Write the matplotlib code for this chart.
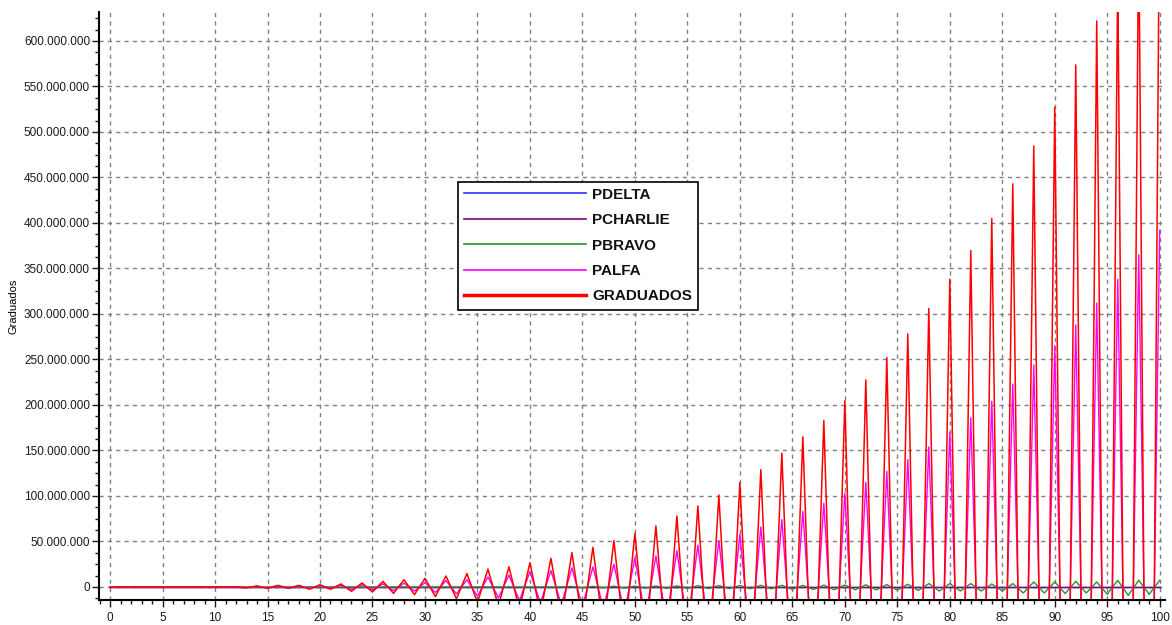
import numpy as np
import matplotlib
matplotlib.use('Agg')
import matplotlib.pyplot as plt
from matplotlib.ticker import MultipleLocator, FuncFormatter

plt.rcParams['font.family'] = ['Liberation Sans', 'DejaVu Sans']

# x steps 0..100
steps = list(range(0, 101))

# values in millions (odd steps below the axis are estimates)
graduados_m = [
    0, 0, 0, 0, 0, 0, 0, 0, 0, 0,
    0, 0, 0, -1.0, 1.2, -1.5, 1.8, -1.5, 1.8, -2.5,
    2.5, -2.5, 3.3, -4.8, 4.4, -5.5, 6.2, -7.0, 8.0, -8.4,
    9.5, -10.5, 12.0, -13.0, 14.8, -17.0, 19.7, -21.0, 22.3, -24.5,
    26.7, -29.0, 31.5, -34.5, 37.7, -40.5, 43.6, -47.0, 50.9, -55.5,
    59.0, -64.0, 67.0, -72.5, 78.0, -83.5, 89.0, -95.0, 101.0, -108.0,
    114.6, -122.0, 129.0, -138.0, 147.0, -156.0, 165.0, -174.0, 182.8, -194.0,
    204.7, -216.0, 227.5, -240.0, 252.0, -265.0, 278.0, -292.0, 306.0, -322.0,
    338.0, -354.0, 369.6, -387.0, 405.0, -424.0, 443.0, -464.0, 484.6, -506.0,
    527.0, -550.0, 573.6, -598.0, 622.0, -648.0, 675.0, -703.0, 731.0, -760.0,
    790.0,
]

palfa_m = [
    0, 0, 0, 0, 0, 0, 0, 0, 0, 0,
    0, 0, 0, -0.7, 0.8, -1.0, 1.2, -1.0, 1.2, -1.5,
    1.5, -1.6, 2.0, -2.8, 2.5, -3.2, 3.5, -4.0, 4.2, -4.5,
    4.7, -6.0, 7.0, -7.5, 8.0, -10.0, 11.0, -12.0, 13.0, -15.0,
    16.8, -17.5, 18.0, -19.5, 21.0, -21.5, 22.0, -23.5, 25.0, -28.5,
    32.0, -33.0, 34.0, -37.0, 40.0, -43.0, 46.0, -48.5, 51.0, -54.5,
    58.0, -62.0, 66.0, -70.0, 74.0, -78.5, 83.0, -87.5, 92.0, -97.5,
    103.0, -109.0, 115.0, -121.0, 127.0, -133.5, 140.0, -147.0, 154.0, -162.0,
    170.0, -178.0, 186.0, -195.0, 204.0, -213.5, 223.0, -233.5, 244.0, -254.5,
    265.0, -276.5, 288.0, -300.0, 312.0, -325.0, 338.0, -351.5, 365.0, -378.5,
    392.0,
]

pbravo_m = [
    0, 0, 0, 0, 0, 0, 0, 0, 0, 0,
    0, 0, 0, 0, 0, 0, 0, 0, 0, 0,
    0, 0, 0, 0, 0, 0, 0, 0, 0, 0,
    0, 0, 0, 0, 0, 0, 0, 0, 0, 0,
    0, 0, 0, 0, 0.6, -0.8, 0.7, -0.9, 0.9, -1.2,
    1.0, -1.3, 1.2, -1.5, 1.3, -1.6, 1.5, -1.7, 1.6, -1.8,
    1.7, -1.9, 1.8, -2.0, 1.8, -2.6, 1.8, -2.8, 2.0, -3.0,
    2.2, -3.0, 2.4, -3.2, 2.6, -3.4, 3.0, -3.8, 3.7, -4.4,
    3.7, -4.4, 3.7, -4.4, 3.3, -4.4, 3.7, -6.6, 5.5, -6.6,
    5.5, -7.3, 6.2, -6.6, 5.5, -8.0, 7.3, -9.2, 7.3, -8.0,
    7.3,
]

pcharlie_m = [0] * 101
pdelta_m = [0] * 101

series = [
    ('PDELTA', pdelta_m, '#3030ff', 1.0),
    ('PCHARLIE', pcharlie_m, '#800080', 1.0),
    ('PBRAVO', pbravo_m, '#22962a', 1.0),
    ('PALFA', palfa_m, '#ff00ff', 1.0),
    ('GRADUADOS', graduados_m, '#ff0000', 1.1),
]

fig = plt.figure(figsize=(11.72, 6.25), dpi=100)
ax = fig.add_axes([0.0845, 0.04, 0.9095, 0.941])

for name, vals, col, lw in series:
    ax.plot(steps, np.array(vals) * 1e6, color=col, lw=lw, label=name)

ax.set_xlim(-1.05, 100.5)
ax.set_ylim(-14.3e6, 632e6)

ax.xaxis.set_major_locator(MultipleLocator(5))
ax.xaxis.set_minor_locator(MultipleLocator(1))
ax.yaxis.set_major_locator(MultipleLocator(50e6))
ax.yaxis.set_minor_locator(MultipleLocator(12.5e6))
ax.yaxis.set_major_formatter(FuncFormatter(lambda v, p: '{:,.0f}'.format(v).replace(',', '.')))

ax.tick_params(axis='both', which='major', length=5, width=1, labelsize=8.5, colors='#1a1a1a', direction='out')
ax.tick_params(axis='y', which='major', pad=1.5)
ax.tick_params(axis='both', which='minor', length=3, width=1, colors='#1a1a1a', direction='out')

ax.grid(True, which='major', color='#808080', linestyle=(0, (3, 3)), linewidth=1)
ax.set_axisbelow(True)

for side in ['top', 'right']:
    ax.spines[side].set_visible(False)
for side in ['left', 'bottom']:
    ax.spines[side].set_linewidth(1.5)
    ax.spines[side].set_color('black')

ax.set_ylabel('Graduados', fontsize=8, labelpad=4)

leg = ax.legend(loc='upper left', bbox_to_anchor=(0.3293, 0.7245), fontsize=11,
                handlelength=8.0, handletextpad=0.4, labelspacing=0.75,
                borderpad=0.4, fancybox=False, framealpha=1, edgecolor='black')
leg.get_frame().set_linewidth(1.2)
for t in leg.get_texts():
    t.set_fontweight('bold')
    t.set_color('#111111')
for h in leg.get_lines():
    h.set_linewidth(1.2)
leg.get_lines()[-1].set_linewidth(2.5)

fig.savefig('out.png', dpi=100)
